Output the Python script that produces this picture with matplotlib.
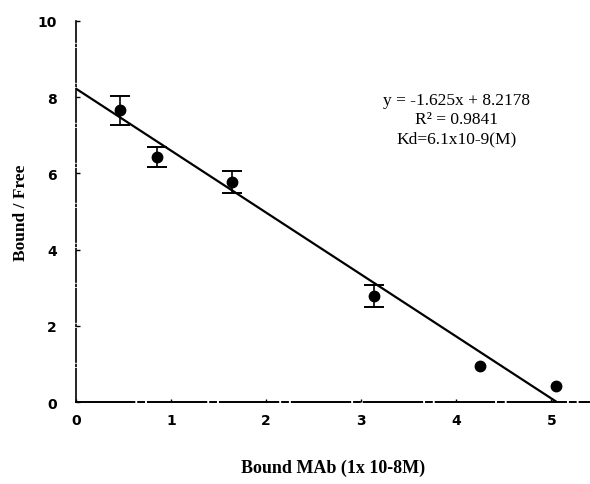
import numpy as np
from matplotlib import pyplot as plt

# Scatchard plot data
bound = [0.46, 0.85, 1.64, 3.13, 4.25, 5.05]
bound_free = [7.66, 6.43, 5.77, 2.78, 0.94, 0.42]
err = [0.38, 0.27, 0.29, 0.30, 0.0, 0.0]

slope = -1.625
intercept = 8.2178

fig = plt.figure(figsize=(5.9, 4.85), dpi=100)
ax = fig.add_axes([0.129, 0.169, 0.87, 0.786])

# linea de regresion
xl = np.array([0, -intercept / slope])
ax.plot(xl, slope * xl + intercept, color='black', lw=1.6)

# puntos con barra de error (solo donde hay error)
ax.plot(bound, bound_free, 'o', color='black', ms=7.5)
xe = [b for b, e in zip(bound, err) if e > 0]
ye = [v for v, e in zip(bound_free, err) if e > 0]
ee = [e for e in err if e > 0]
ax.errorbar(xe, ye, yerr=ee, fmt='none', ecolor='black',
            capsize=7, elinewidth=1.2, capthick=1.4)

ax.set_xlim(0, 5.4)
ax.set_ylim(0, 10)
ax.set_xticks([0, 1, 2, 3, 4, 5])
ax.set_yticks([0, 2, 4, 6, 8, 10])

for s in ['top', 'right']:
    ax.spines[s].set_visible(False)
ax.spines['left'].set_linestyle((0, (20, 1.5, 1, 1.5)))
ax.spines['bottom'].set_linestyle((0, (30, 2, 3, 2)))
ax.spines['left'].set_linewidth(1.2)
ax.spines['bottom'].set_linewidth(1.4)

ax.tick_params(axis='y', length=3, width=1, pad=14, direction='in')
ax.tick_params(axis='x', length=2, width=1, pad=8, direction='in')
for lb in ax.get_xticklabels() + ax.get_yticklabels():
    lb.set_fontweight('bold')
    lb.set_fontsize(10)
    lb.set_family('DejaVu Sans')

ax.set_ylabel('Bound / Free', family='Liberation Serif', fontweight='bold',
              fontsize=12.5, labelpad=6)
ax.set_xlabel('Bound MAb (1x 10-8M)', family='Liberation Serif', fontweight='bold',
              fontsize=13, labelpad=23)

ax.text(4.0, 7.42, 'y = -1.625x + 8.2178\nR² = 0.9841\nKd=6.1x10-9(M)',
        family='Liberation Serif', fontsize=12.5, ha='center', va='center',
        linespacing=1.25)

plt.savefig('out.png', dpi=100)
